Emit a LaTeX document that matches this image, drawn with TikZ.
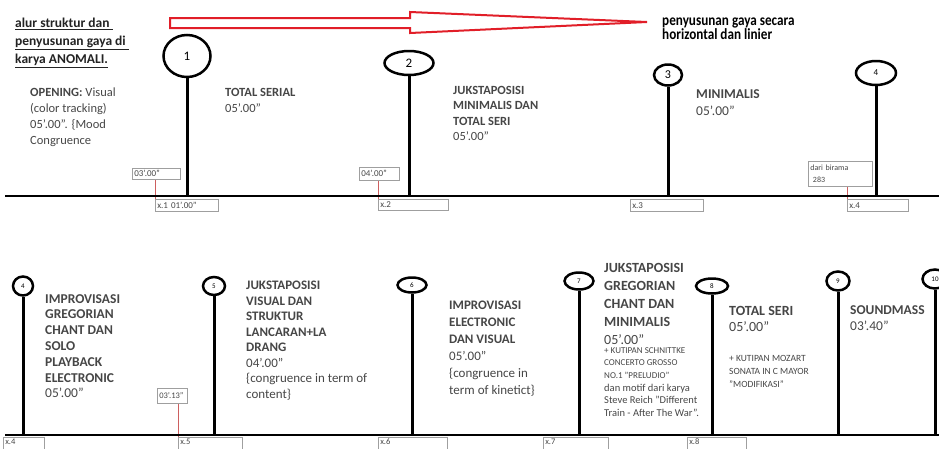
\documentclass[tikz,border=0pt]{standalone}
\usepackage{fontspec}
\setmainfont{Carlito}
\newfontfamily\bannerfont{Carlito}[FakeStretch=0.85]
\usepackage{tikz}
\usetikzlibrary{shapes,positioning,calc}
\definecolor{txtgray}{RGB}{70,70,70}
\definecolor{titlegray}{RGB}{35,35,35}
\definecolor{linkred}{RGB}{205,95,95}
\definecolor{arrowred}{RGB}{225,30,40}

\begin{document}
\begin{tikzpicture}[x=1pt,y=-1pt,
  ell/.style={ellipse,draw,line width=2.5pt,inner sep=0pt},
  stem/.style={line width=3pt},
  axis/.style={line width=2.6pt},
  txt/.style={anchor=north west,inner sep=0pt,align=left,text=txtgray},
  tbox/.style={draw=gray!75,line width=0.6pt,anchor=north west,align=left,inner sep=2pt,text=txtgray,font=\fontsize{9}{12}\selectfont},
  xbox/.style={tbox,font=\fontsize{8.5}{10}\selectfont,text height=5.5,text depth=10,inner ysep=1.5},
  link/.style={draw=linkred,line width=0.6pt}]
\useasboundingbox (0,0) rectangle (939,448);
% title and direction arrow
\node[txt,text=titlegray,font=\fontsize{13.5}{18}\selectfont\bfseries](ttl) at (15,18){\underline{alur struktur dan\ }\\\underline{penyusunan gaya di\ }\\\underline{karya ANOMALI.}};
\draw[arrowred,line width=2pt](170,18)--(410,18)--(410,12)--(647,22)--(410,33)--(410,28)--(170,28)--cycle;
\node[txt,text=black,font=\bannerfont\bfseries\fontsize{15.5}{14.5}\selectfont](ban) at (662,17.5){penyusunan gaya secara\\horizontal dan linier};
% upper time line
\coordinate (tl) at (5,196); \coordinate (tr) at (945,196);
\node[ell,minimum width=47,minimum height=42,font=\fontsize{13}{13}\selectfont](c1) at (187,56){1};
\node[ell,minimum width=49,minimum height=24,font=\fontsize{13}{13}\selectfont](c2) at (409,63){2};
\node[ell,minimum width=28,minimum height=21,font=\fontsize{12}{12}\selectfont](c3) at (668,75){3};
\node[ell,minimum width=40,minimum height=24,font=\fontsize{9}{9}\selectfont](c4) at (876,73){4};
\draw[stem](c1)--(c1|-tl); \draw[stem](c2)--(c2|-tl); \draw[stem](c3)--(c3|-tl); \draw[stem](c4)--(c4|-tl);
\node[txt,font=\fontsize{12.5}{16}\selectfont](l0) at (30,87.5){\textbf{OPENING:} Visual\\(color tracking)\\05'.00". \{Mood\\Congruence};
\node[txt,font=\fontsize{12.5}{16}\selectfont](l1) at (225,88){\textbf{TOTAL SERIAL}\\05'.00"};
\node[txt,font=\fontsize{12.5}{15.5}\selectfont](l2) at (453,86){\textbf{JUKSTAPOSISI}\\\textbf{MINIMALIS DAN}\\\textbf{TOTAL SERI}\\05'.00"};
\node[txt,font=\fontsize{13.5}{17}\selectfont](l3) at (696,89){\textbf{MINIMALIS}\\05'.00"};
\node[tbox,text width=44,minimum height=11](t1) at (132,168){03'.00"};
\node[tbox,text width=59,minimum height=12](b1) at (155,199){x.1 01'.00"};
\node[tbox,text width=36,minimum height=13](t2) at (359,167){04'.00"};
\node[tbox,text width=66,minimum height=11](b2) at (378,199){x.2};
\node[tbox,text width=69,minimum height=12](b3) at (630,199){x.3};
\node[tbox,font=\fontsize{8}{12}\selectfont,text width=60,minimum height=25](t4) at (808,161){dari birama\\\ 283};
\node[tbox,text width=57,minimum height=12](b4) at (847,199){x.4};
\draw[link](b1.north west)--(b1.north west|-t1.south);
\draw[link](b2.north west)--(b2.north west|-t2.south);
\draw[link](b4.north west)--(b4.north west|-t4.south);
\draw[axis](tl)--(tr);
% lower time line
\coordinate (bl) at (5,435); \coordinate (br) at (945,435);
\node[ell,minimum width=20,minimum height=19,font=\fontsize{7}{7}\selectfont](d4) at (23,286){4};
\node[ell,minimum width=22,minimum height=18,font=\fontsize{7}{7}\selectfont](d5) at (214,286){5};
\node[ell,minimum width=29,minimum height=15,font=\fontsize{7}{7}\selectfont](d6) at (412,285){6};
\node[ell,minimum width=29,minimum height=17,font=\fontsize{7}{7}\selectfont](d7) at (579,281){7};
\node[ell,minimum width=32,minimum height=15,font=\fontsize{7}{7}\selectfont](d8) at (712,286){8};
\node[ell,minimum width=23,minimum height=19,font=\fontsize{7}{7}\selectfont](d9) at (838,281){9};
\node[ell,minimum width=25,minimum height=19,font=\fontsize{7}{7}\selectfont](d10) at (935,279){10};
\foreach \n in {d4,d5,d6,d7,d8,d9,d10}{\draw[stem](\n)--(\n|-bl);}
\node[txt,font=\fontsize{13.5}{15.8}\selectfont](m4) at (45,294){\textbf{IMPROVISASI}\\\textbf{GREGORIAN}\\\textbf{CHANT DAN}\\\textbf{SOLO}\\\textbf{PLAYBACK}\\\textbf{ELECTRONIC}\\05'.00"};
\node[txt,font=\fontsize{13}{15.5}\selectfont](m5) at (246,281){\textbf{JUKSTAPOSISI}\\\textbf{VISUAL DAN}\\\textbf{STRUKTUR}\\\textbf{LANCARAN+LA}\\\textbf{DRANG}\\04'.00"\\ \{congruence in term of\\ content\}};
\node[txt,font=\fontsize{13}{17}\selectfont](m6) at (449,301){\textbf{IMPROVISASI}\\\textbf{ELECTRONIC}\\\textbf{DAN VISUAL}\\05'.00"\\\{congruence in\\term of kinetict\}};
\node[txt,font=\fontsize{14}{18}\selectfont](m7) at (604,263){\textbf{JUKSTAPOSISI}\\\textbf{GREGORIAN}\\\textbf{CHANT DAN}\\\textbf{MINIMALIS}\\05'.00"};
\node[txt,font=\fontsize{9}{12.7}\selectfont](n7) at (604,347){+ KUTIPAN SCHNITTKE\\CONCERTO GROSSO\\NO.1 "PRELUDIO"\\\fontsize{10.5}{12.7}\selectfont dan motif dari karya\\\fontsize{10.5}{12.7}\selectfont Steve Reich "Different\\\fontsize{10.5}{12.7}\selectfont Train - After The War".};
\node[txt,font=\fontsize{14}{16}\selectfont](m8) at (729,306){\textbf{TOTAL SERI}\\05'.00"};
\node[txt,font=\fontsize{9.5}{13}\selectfont](n8) at (729,355){+ KUTIPAN MOZART\\SONATA IN C MAYOR\\"MODIFIKASI"};
\node[txt,font=\fontsize{13.5}{16}\selectfont](m9) at (850,305){\textbf{SOUNDMASS}\\03'.40"};
\node[tbox,font=\fontsize{8.5}{10}\selectfont,text width=26,minimum height=15](t5) at (157,388){03'.13"};
\node[xbox,text width=37](e4) at (3,437){x.4};
\node[xbox,text width=60](e5) at (178,437){x.5};
\node[xbox,text width=65](e6) at (378,437){x.6};
\node[xbox,text width=61](e7) at (543,437){x.7};
\node[xbox,text width=55](e8) at (687,437){x.8};
\draw[link](e5.north west)--(e5.north west|-t5.south);
\draw[axis](bl)--(br);
\end{tikzpicture}
\end{document}
